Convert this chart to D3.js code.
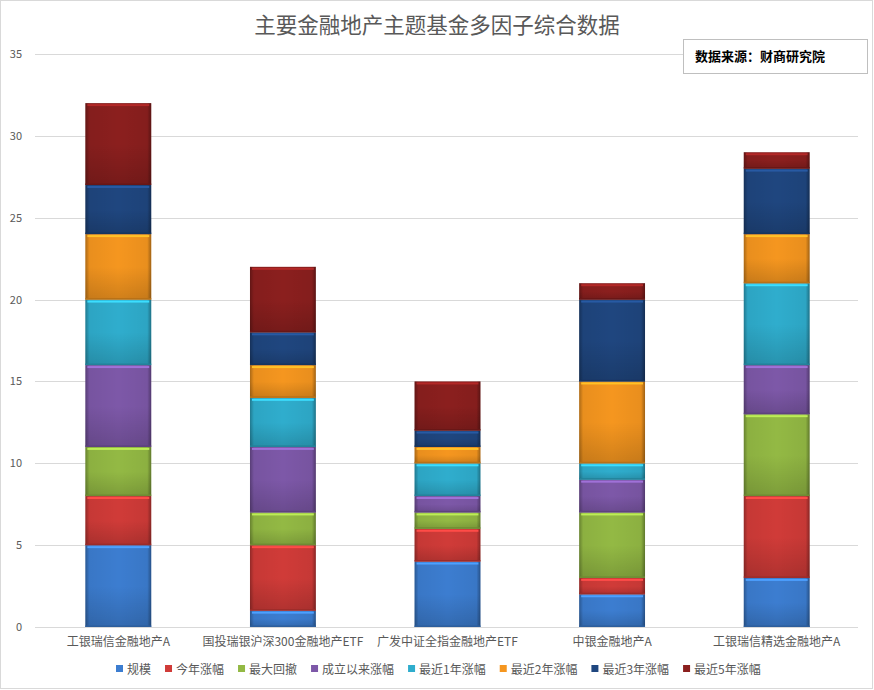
<!DOCTYPE html>
<html><head><meta charset="utf-8">
<script src="https://cdn.jsdelivr.net/npm/d3@7/dist/d3.min.js"></script>
<style>body{margin:0;background:#fff;}svg{display:block;}</style>
</head><body>
<svg id="c" width="874" height="690"></svg>
<script>
const categories = ["工银瑞信金融地产A","国投瑞银沪深300金融地产ETF","广发中证全指金融地产ETF","中银金融地产A","工银瑞信精选金融地产A"];
const seriesNames = ["规模","今年涨幅","最大回撤","成立以来涨幅","最近1年涨幅","最近2年涨幅","最近3年涨幅","最近5年涨幅"];
const guiMo      = [5,1,4,2,3];
const jinNian    = [3,4,2,1,5];
const zuiDaHuiChe= [3,2,1,4,5];
const chengLi    = [5,4,1,2,3];
const jin1       = [4,3,2,1,5];
const jin2       = [4,2,1,5,3];
const jin3       = [3,2,1,5,4];
const jin5       = [5,4,3,1,1];
const seriesValues = [guiMo,jinNian,zuiDaHuiChe,chengLi,jin1,jin2,jin3,jin5];
const colors = ["#3c7dd0","#d03b38","#93b944","#7d58a8","#2fadcd","#f5961f","#1f467f","#8b1f1e"];
const yTicks = [0,5,10,15,20,25,30,35];

const svg = d3.select("#c");
const font = "'Noto Sans CJK SC','Noto Sans',sans-serif";

svg.append("rect").attr("x",0.5).attr("y",0.5).attr("width",872).attr("height",688)
  .attr("fill","#fff").attr("stroke","#d9d9d9");

svg.append("text").attr("x",437).attr("y",33).attr("text-anchor","middle")
  .attr("font-family",font).attr("font-size",21.5).attr("fill","#595959")
  .text("主要金融地产主题基金多因子综合数据");

const x = d3.scaleBand().domain(categories).range([36,859]).paddingInner(0.6).paddingOuter(0.3);
const y = d3.scaleLinear().domain([0,35]).range([627,54]);

const defs = svg.append("defs");
const hg = defs.append("linearGradient").attr("id","hedge").attr("x1",0).attr("x2",1).attr("y1",0).attr("y2",0);
hg.append("stop").attr("offset",0).attr("stop-color","#000").attr("stop-opacity",0.3);
hg.append("stop").attr("offset",0.06).attr("stop-color","#000").attr("stop-opacity",0.05);
hg.append("stop").attr("offset",0.5).attr("stop-color","#000").attr("stop-opacity",0);
hg.append("stop").attr("offset",0.94).attr("stop-color","#000").attr("stop-opacity",0.05);
hg.append("stop").attr("offset",1).attr("stop-color","#000").attr("stop-opacity",0.35);
const vg = defs.append("linearGradient").attr("id","vedge").attr("x1",0).attr("x2",0).attr("y1",0).attr("y2",1);
vg.append("stop").attr("offset",0).attr("stop-color","#fff").attr("stop-opacity",0.0);
vg.append("stop").attr("offset",0.5).attr("stop-color","#000").attr("stop-opacity",0.0);
vg.append("stop").attr("offset",1).attr("stop-color","#000").attr("stop-opacity",0.15);

// grid
svg.append("g").selectAll("line").data(yTicks).join("line")
  .attr("x1",35).attr("x2",858).attr("y1",d=>Math.round(y(d))+0.5).attr("y2",d=>Math.round(y(d))+0.5)
  .attr("stroke","#d9d9d9");
svg.append("g").selectAll("text").data(yTicks).join("text")
  .attr("x",22).attr("y",d=>y(d)+4).attr("text-anchor","end")
  .attr("font-family",font).attr("font-size",11).attr("fill","#595959").text(d=>d);

// stack
const rows = categories.map((c,i)=>{const o={cat:c}; seriesNames.forEach((s,j)=>o[s]=seriesValues[j][i]); return o;});
const stacked = d3.stack().keys(seriesNames)(rows);

const g = svg.append("g");
stacked.forEach((layer,li)=>{
  layer.forEach(d=>{
    const x0 = x(d.data.cat), w = x.bandwidth();
    const y1 = y(d[1]), y0 = y(d[0]), h = y0-y1;
    const c = colors[li];
    g.append("rect").attr("x",x0).attr("y",y1).attr("width",w).attr("height",h).attr("fill",c);
    g.append("rect").attr("x",x0).attr("y",y1).attr("width",w).attr("height",h).attr("fill","url(#hedge)");
    g.append("rect").attr("x",x0).attr("y",y1).attr("width",w).attr("height",h).attr("fill","url(#vedge)");
    g.append("rect").attr("x",x0+2).attr("y",y1+1).attr("width",w-4).attr("height",Math.min(2,h))
      .attr("fill",d3.color(c).brighter(0.7));
    g.append("rect").attr("x",x0).attr("y",y0-1.5).attr("width",w).attr("height",1.5)
      .attr("fill",d3.color(c).darker(0.8));
  });
});

// x labels
svg.append("g").selectAll("text").data(categories).join("text")
  .attr("x",d=>x(d)+x.bandwidth()/2).attr("y",646).attr("text-anchor","middle")
  .attr("font-family",font).attr("font-size",12).attr("fill","#595959").text(d=>d);

// legend
const lg = svg.append("g");
let lx = 116;
seriesNames.forEach((s,i)=>{
  const item = lg.append("g");
  item.append("rect").attr("x",lx).attr("y",665).attr("width",7).attr("height",7).attr("fill",colors[i]);
  const t = item.append("text").attr("x",lx+11).attr("y",674).attr("font-family",font).attr("font-size",12)
    .attr("fill","#595959").text(s);
  lx += 11 + t.node().getComputedTextLength() + 14;
});

// source box
svg.append("rect").attr("x",683.5).attr("y",39.5).attr("width",184).attr("height",34)
  .attr("fill","#fff").attr("stroke","#bfbfbf");
svg.append("text").attr("x",695).attr("y",61).attr("font-family",font).attr("font-size",13)
  .attr("font-weight","bold").attr("fill","#000").text("数据来源：财商研究院");
</script>
</body></html>
